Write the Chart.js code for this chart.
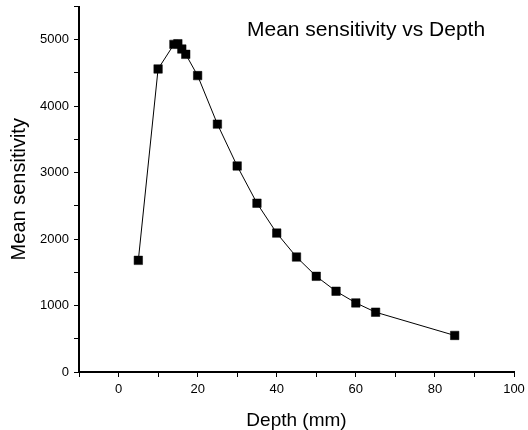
<!DOCTYPE html>
<html>
<head>
<meta charset="utf-8">
<script src="https://cdn.jsdelivr.net/npm/chart.js@4/dist/chart.umd.min.js"></script>
<style>
  html, body { margin: 0; padding: 0; background: #fff; }
  #wrap { width: 528px; height: 430px; }
</style>
</head>
<body>
<div id="wrap"><canvas id="chart"></canvas></div>
<script>
// ── Daten ────────────────────────────────────────────────────
const depth       = [5, 10, 14, 15, 16, 17, 20, 25, 30, 35, 40, 45, 50, 55, 60, 65, 85];
const sensitivity = [1680, 4560, 4930, 4940, 4860, 4780, 4460, 3730, 3100, 2540, 2090, 1730, 1440, 1215, 1040, 900, 550];

const xTicksMajor = [0, 20, 40, 60, 80, 100];
const yTicksMajor = [0, 1000, 2000, 3000, 4000, 5000];

const FONT = "'Liberation Sans', Arial, sans-serif";

// Titel im Plotbereich
const innerTitle = {
  id: 'innerTitle',
  afterDraw(chart) {
    const { ctx, chartArea } = chart;
    ctx.save();
    ctx.font = '21px ' + FONT;
    ctx.fillStyle = '#000';
    ctx.textBaseline = 'middle';
    ctx.fillText('Mean sensitivity vs Depth', chartArea.left + 168, chartArea.top + 24);
    ctx.restore();
  }
};

const points = depth.map((d, i) => ({ x: d, y: sensitivity[i] }));

new Chart(document.getElementById('chart'), {
  type: 'scatter',
  data: {
    datasets: [{
      data: points,
      showLine: true,
      borderColor: '#000',
      borderWidth: 1,
      pointStyle: 'rect',
      pointRadius: 6,
      pointBackgroundColor: '#000',
      pointBorderColor: '#000',
      pointBorderWidth: 0.5
    }]
  },
  options: {
    responsive: true,
    maintainAspectRatio: false,
    animation: false,
    layout: { padding: { left: 0, right: 14, top: 6, bottom: 0 } },
    plugins: { legend: { display: false }, tooltip: { enabled: false } },
    scales: {
      x: {
        type: 'linear',
        min: -10, max: 100,
        afterFit(s) { s.height = 58; s.paddingLeft = 0; s.paddingRight = 0; },
        border: { display: true, color: '#000', width: 2 },
        grid: { drawOnChartArea: false, drawTicks: true, tickLength: 5, tickColor: '#000', tickWidth: 1 },
        ticks: {
          stepSize: 10,
          padding: 5,
          color: '#000',
          font: { family: FONT, size: 13 },
          maxRotation: 0,
          autoSkip: false,
          callback: v => xTicksMajor.includes(v) ? String(v) : ''
        },
        title: { display: true, text: 'Depth (mm)', color: '#000', font: { family: FONT, size: 19 }, padding: { top: 0, bottom: -2 } }
      },
      y: {
        type: 'linear',
        min: 0, max: 5500,
        afterFit(s) { s.width = 79; s.paddingTop = 0; s.paddingBottom = 0; },
        border: { display: true, color: '#000', width: 2 },
        grid: { drawOnChartArea: false, drawTicks: true, tickLength: 5, tickColor: '#000', tickWidth: 1 },
        ticks: {
          stepSize: 500,
          padding: 5,
          color: '#000',
          font: { family: FONT, size: 13 },
          autoSkip: false,
          callback: v => yTicksMajor.includes(v) ? String(v) : ''
        },
        title: { display: true, text: 'Mean sensitivity', color: '#000', font: { family: FONT, size: 20 }, padding: { top: 7, bottom: 0 } }
      }
    }
  },
  plugins: [innerTitle]
});
</script>
</body>
</html>
